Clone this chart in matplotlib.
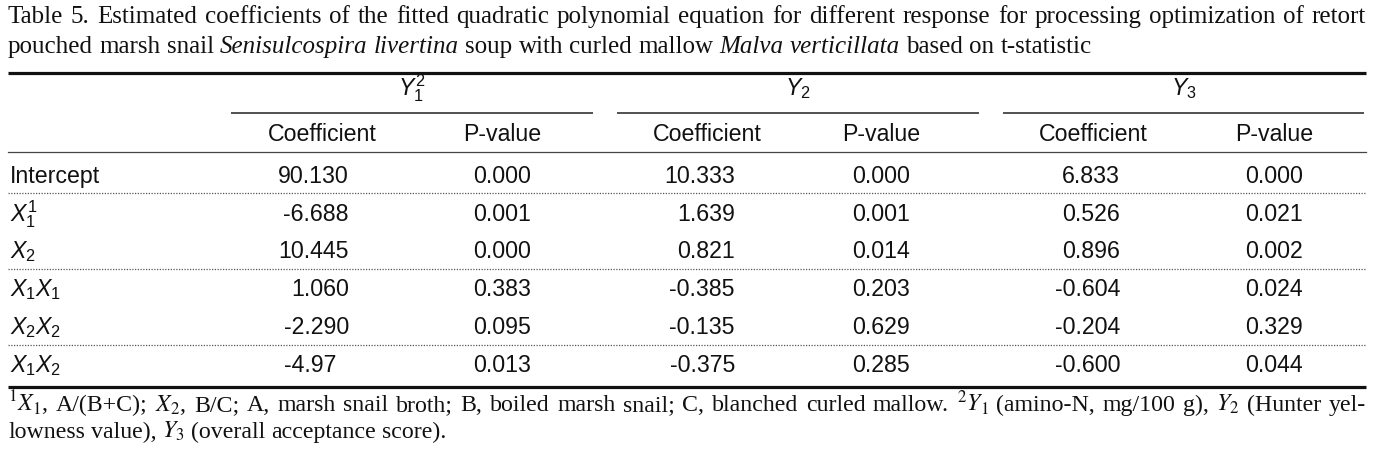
import matplotlib
matplotlib.use("Agg")
import matplotlib.pyplot as plt

# ---------------- data ----------------
title_line1 = "Table 5. Estimated coefficients of the fitted quadratic polynomial equation for different response for processing optimization of retort"
title_line2 = [("pouched marsh snail", "normal"), ("Senisulcospira livertina", "italic"),
               ("soup with curled mallow", "normal"), ("Malva verticillata", "italic"),
               ("based on t-statistic", "normal")]

groups = [r"$Y_1^2$", r"$Y_2$", r"$Y_3$"]
subheaders = ["Coefficient", "P-value"]
row_labels = ["Intercept", r"$X_1^1$", r"$X_2$", r"$X_1X_1$", r"$X_2X_2$", r"$X_1X_2$"]

coef_y1 = ["90.130", "-6.688", "10.445", "1.060", "-2.290", "-4.97"]
p_y1 = ["0.000", "0.001", "0.000", "0.383", "0.095", "0.013"]
coef_y2 = ["10.333", "1.639", "0.821", "-0.385", "-0.135", "-0.375"]
p_y2 = ["0.000", "0.001", "0.014", "0.203", "0.629", "0.285"]
coef_y3 = ["6.833", "0.526", "0.896", "-0.604", "-0.204", "-0.600"]
p_y3 = ["0.000", "0.021", "0.002", "0.024", "0.329", "0.044"]

foot_line1 = (r"$^{1}X_{1}$, A/(B+C); $X_{2}$, B/C; A, marsh snail broth; B, boiled marsh snail; "
              r"C, blanched curled mallow. $^{2}Y_{1}$ (amino-N, mg/100 g), $Y_{2}$ (Hunter yel-")
foot_line2 = r"lowness value), $Y_{3}$ (overall acceptance score)."

# ---------------- setup ----------------
plt.rcParams["mathtext.fontset"] = "custom"
plt.rcParams["mathtext.rm"] = "Liberation Sans"
plt.rcParams["mathtext.it"] = "Liberation Sans:italic"

W, H = 1384, 458
fig = plt.figure(figsize=(W / 100, H / 100), dpi=100)
ax = fig.add_axes([0, 0, 1, 1])
ax.set_xlim(0, W)
ax.set_ylim(H, 0)
ax.axis("off")
renderer = fig.canvas.get_renderer()

SERIF = "Liberation Serif"
SANS = "Liberation Sans"


def width_of(t):
    return t.get_window_extent(renderer).width


def layout_words(words, x0, y, size, x1=None, family=SERIF, mff="stix"):
    arts = []
    for s, st in words:
        t = ax.text(0, y, s, fontsize=size, family=family, style=st, ha="left",
                    va="baseline", math_fontfamily=mff, color="#111111")
        arts.append(t)
    widths = [width_of(t) for t in arts]
    if x1 is not None and len(arts) > 1:
        gap = (x1 - x0 - sum(widths)) / (len(arts) - 1)
    else:
        gap = size * 100 / 72 * 0.25
    x = x0
    for t, w in zip(arts, widths):
        t.set_x(x)
        x += w + gap
    return arts


def split_words(segments):
    out = []
    for s, st in segments:
        for w in s.split(" "):
            out.append((w, st))
    return out


def fit_size(words, target, family=SERIF, mff="stix"):
    ref = 10.0
    arts = layout_words(words, 0, -100, ref, family=family, mff=mff)
    span = arts[-1].get_window_extent(renderer).x1 - arts[0].get_window_extent(renderer).x0
    for a in arts:
        a.remove()
    return ref * target / span


def mt_split(s):
    words, cur, inmath = [], "", False
    for ch in s:
        if ch == "$":
            inmath = not inmath
        if ch == " " and not inmath:
            words.append(cur)
            cur = ""
        else:
            cur += ch
    words.append(cur)
    return [(w, "normal") for w in words]


# ---------------- title ----------------
L = 8
R = 1366
t1 = [(w, "normal") for w in title_line1.split(" ")]
t2 = split_words(title_line2)
tsize = fit_size(t1, 1335)
layout_words(t1, L, 23, tsize, x1=R)
layout_words(t2, L, 53, tsize)

# ---------------- table rules ----------------
ax.plot([L, R], [73, 73], color="#111111", lw=2.3, solid_capstyle="butt")
ax.plot([L, R], [387, 387], color="#111111", lw=2.3, solid_capstyle="butt")
group_spans = [(231, 593), (617, 979), (1003, 1364)]
for (a, b) in group_spans:
    ax.plot([a, b], [113, 113], color="#222222", lw=1.1, solid_capstyle="butt")
ax.plot([L, R], [152, 152], color="#444444", lw=0.9)
for yy in [193, 269, 345]:
    ax.plot([L, R], [yy, yy], color="#555555", lw=0.9, linestyle=(0, (1, 1.2)))

# ---------------- table text ----------------
BS = 16.7
txt = dict(fontsize=BS, family=SANS, color="#111111", va="baseline", math_fontfamily="custom")
for g, (a, b) in zip(groups, group_spans):
    ax.text((a + b) / 2, 95, g, ha="center", **txt)

coef_right = [349, 735, 1120]
coef_center = [322, 707, 1093]
p_center = [502, 881, 1274]
for cc, pc in zip(coef_center, p_center):
    ax.text(cc, 141, subheaders[0], ha="center", **txt)
    ax.text(pc, 141, subheaders[1], ha="center", **txt)

row_base = [183, 221, 258, 296, 334, 372]
for lab, yb in zip(row_labels, row_base):
    ax.text(10, yb, lab, ha="left", **txt)

# digit width for decimal alignment
_probe = ax.text(0, -100, "0000000000", fontsize=BS, family=SANS)
digit_w = width_of(_probe) / 10.0
_probe.remove()

for coefs, ps, xr, pc in zip([coef_y1, coef_y2, coef_y3], [p_y1, p_y2, p_y3], coef_right, p_center):
    for c, p, yb in zip(coefs, ps, row_base):
        ndec = len(c.split(".")[1])
        ax.text(xr - (3 - ndec) * digit_w, yb, c, ha="right", **txt)
        ax.text(pc, yb, p, ha="center", **txt)

# ---------------- footnote ----------------
f1 = mt_split(foot_line1)
f2 = mt_split(foot_line2)
fsize = fit_size(f1, 1330)
layout_words(f1, L, 411, fsize, x1=R)
layout_words(f2, L, 438, fsize)

fig.savefig("out.png", dpi=100)
